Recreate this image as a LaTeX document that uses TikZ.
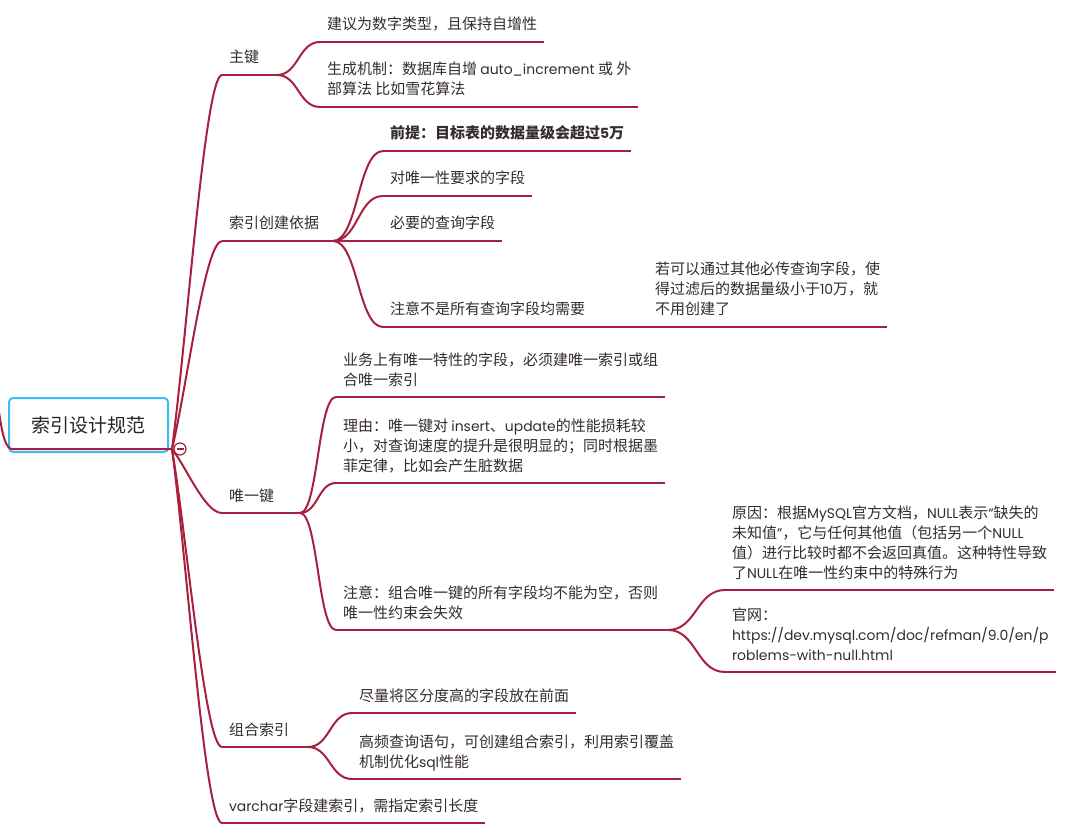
\documentclass[tikz,border=0pt]{standalone}
\usepackage{fontspec}
\setmainfont{Noto Sans CJK SC}
\newfontfamily\latfont[Scale=0.93]{Poppins}
\newcommand{\en}[1]{{\latfont #1}}
\usetikzlibrary{calc}
\definecolor{branch}{HTML}{A8203F}
\definecolor{topictext}{HTML}{352C2C}
\definecolor{rootedge}{HTML}{3DBDF5}

\begin{document}
\begin{tikzpicture}[
  x=1pt, y=-1pt,
  every node/.style={font=\fontsize{15}{20}\selectfont, text=topictext},
  topic/.style={
    anchor=south west, align=left, inner xsep=7pt, inner ysep=12pt,
    text depth=0pt, outer sep=0pt,
  },
  rootbox/.style={
    draw=rootedge, line width=2pt, rounded corners=4pt, fill=white,
    minimum width=159pt, minimum height=54pt,
    font=\fontsize{19}{22}\selectfont, text=black!85,
  },
  link/.style={draw=branch, line width=2pt},
  uline/.style={draw=branch, line width=2pt},
  fold/.style={circle, draw=branch, line width=1.2pt, fill=white,
    minimum size=12pt, inner sep=0pt},
]
  \useasboundingbox (0,0) rectangle (1080,837);

  % First level topics
  \node[topic] (k1) at (222,75)  {主键};
  \node[topic] (k2) at (222,241) {索引创建依据};
  \node[topic] (k3) at (222,513) {唯一键};
  \node[topic] (k4) at (222,747) {组合索引};
  \node[topic] (k5) at (222,823) {\en{varchar}字段建索引，需指定索引长度};

  % Second and third level topics
  \node[topic] (a1) at (320,42)  {建议为数字类型，且保持自增性};
  \node[topic] (a2) at (320,107) {生成机制：数据库自增 \en{auto\_increment} 或 外\\部算法 比如雪花算法};

  \node[topic, font=\fontsize{15}{20}\selectfont\bfseries] (b1) at (383,151) {前提：目标表的数据量级会超过\en{5}万};
  \node[topic] (b2) at (383,196) {对唯一性要求的字段};
  \node[topic] (b3) at (383,241) {必要的查询字段};
  \node[topic] (b4) at (383,327) {注意不是所有查询字段均需要};
  \node[topic] (c1) at (648,327) {若可以通过其他必传查询字段，使\\得过滤后的数据量级小于\en{10}万，就\\不用创建了};

  \node[topic] (d1) at (336,397) {业务上有唯一特性的字段，必须建唯一索引或组\\合唯一索引};
  \node[topic] (d2) at (336,483) {理由：唯一键对 \en{insert}、\en{update}的性能损耗较\\小，对查询速度的提升是很明显的；同时根据墨\\菲定律，比如会产生脏数据};
  \node[topic] (d3) at (336,630) {注意：组合唯一键的所有字段均不能为空，否则\\唯一性约束会失效};
  \node[topic] (e1) at (725,590) {原因：根据\en{MySQL}官方文档，\en{NULL}表示\en{“}缺失的\\未知值\en{”}，它与任何其他值（包括另一个\en{NULL}\\值）进行比较时都不会返回真值。这种特性导致\\了\en{NULL}在唯一性约束中的特殊行为};
  \node[topic] (e2) at (725,672) {官网：\\\en{https://dev.mysql.com/doc/refman/9.0/en/p}\\\en{roblems-with-null.html}};

  \node[topic] (f1) at (352,713) {尽量将区分度高的字段放在前面};
  \node[topic] (f2) at (352,779) {高频查询语句，可创建组合索引，利用索引覆盖\\机制优化\en{sql}性能};

  % Junctions where children split off
  \coordinate (hub) at (172,449);
  \coordinate (up)  at (-4,390);
  \coordinate (j1) at (277,75);
  \coordinate (j2) at (333,241);
  \coordinate (j3) at (300,513);
  \coordinate (j4) at (640,327);
  \coordinate (j5) at (668,630);
  \coordinate (j6) at (308,747);

  % Trunk from the root
  \foreach \t in {k1,k2,k3,k4,k5}
    \draw[link] (hub) .. controls ($(hub)!0.3!(\t.south west)$)
      and ([xshift=-17pt]\t.south west) .. (\t.south west);

  % Curves to sub topics
  \foreach \j/\t in {j1/a1,j1/a2,j2/b1,j2/b2,j2/b3,j2/b4,j4/c1,
                     j3/d1,j3/d2,j3/d3,j5/e1,j5/e2,j6/f1,j6/f2}
    \draw[link] (\j) .. controls ($(\j)!0.5!(\j -| \t.south west)$)
      and ($(\t.south west)!0.5!(\t.south west -| \j)$) .. (\t.south west);

  % Underlines
  \draw[uline] (k1.south west) -- (j1);
  \draw[uline] (k2.south west) -- (j2);
  \draw[uline] (k3.south west) -- (j3);
  \draw[uline] (k4.south west) -- (j6);
  \draw[uline] (b4.south west) -- (j4);
  \draw[uline] (d3.south west) -- (j5);
  \foreach \t in {k5,a1,a2,b1,b2,b3,c1,d1,d2,e1,e2,f1,f2}
    \draw[uline] (\t.south west) -- (\t.south east);

  % Root topic
  \node[rootbox] (root) at (88.5,425) {索引设计规范};
  \draw[link] (up) .. controls (0,420) and (3,446) .. ($(root.south west |- hub)+(3,0)$) -- (hub);
  \node[fold] (fold) at ($(hub)+(8,0)$) {};
  \draw[branch, line width=1.2pt] ([xshift=-3.5pt]fold.center) -- ([xshift=3.5pt]fold.center);
\end{tikzpicture}
\end{document}
